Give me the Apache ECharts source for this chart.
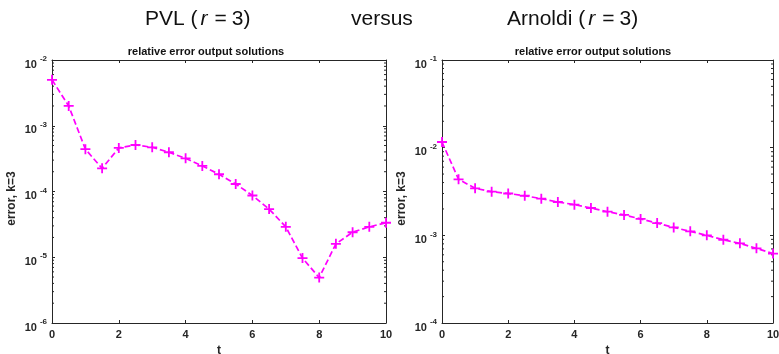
<!DOCTYPE html>
<html>
<head>
<meta charset="utf-8">
<script src="https://cdn.jsdelivr.net/npm/echarts@6/dist/echarts.min.js"></script>
<style>
html, body { margin: 0; padding: 0; background: #fff; }
#chart { width: 779px; height: 354px; }
</style>
</head>
<body>
<div id="chart"></div>
<script>
var tValues = [0, 0.5, 1, 1.5, 2, 2.5, 3, 3.5, 4, 4.5, 5, 5.5, 6, 6.5, 7, 7.5, 8, 8.5, 9, 9.5, 10];
var pvlError = [5.0e-3, 2.0e-3, 4.4e-4, 2.25e-4, 4.6e-4, 5.1e-4, 4.7e-4, 3.95e-4, 3.2e-4, 2.45e-4, 1.83e-4, 1.3e-4, 8.7e-5, 5.4e-5, 2.9e-5, 9.7e-6, 4.9e-6, 1.6e-5, 2.4e-5, 2.9e-5, 3.35e-5];
var arnoldiError = [1.16e-2, 4.35e-3, 3.44e-3, 3.15e-3, 3.0e-3, 2.83e-3, 2.62e-3, 2.4e-3, 2.24e-3, 2.05e-3, 1.86e-3, 1.71e-3, 1.54e-3, 1.38e-3, 1.23e-3, 1.11e-3, 1.0e-3, 8.9e-4, 8.1e-4, 7.1e-4, 6.2e-4];
var leftRange = [1e-6, 1e-2];
var rightRange = [1e-4, 1e-1];
var tRange = [0, 10];

var font = 'Liberation Sans, Arial, Helvetica, sans-serif';
var axisColor = '#262626';
var plotColor = '#ff00ff';
var plusSymbol = 'path://M4.1,0h1.8v10h-1.8zM0,4.1h10v1.8h-10z';

// minor log ticks at 2..9 of every decade
function minorTicks(range) {
    var out = [];
    for (var e = Math.round(Math.log10(range[0])); e < Math.round(Math.log10(range[1])); e++) {
        for (var k = 2; k <= 9; k++) out.push([tRange[0], k * Math.pow(10, e)]);
    }
    return out;
}

function expLabel(v) {
    var e = Math.round(Math.log10(v));
    return '{b|10}{s|' + e + '}';
}

var grids = [
    { left: 52, top: 60, width: 334, height: 263, outerBoundsMode: 'none' },
    { left: 442, top: 60, width: 331, height: 263, outerBoundsMode: 'none' }
];

var xAxes = [];
var yAxes = [];
[leftRange, rightRange].forEach(function (range, g) {
    xAxes.push({
        gridIndex: g, type: 'value', min: tRange[0], max: tRange[1], interval: 2,
        name: 't', nameLocation: 'middle', nameGap: 19,
        nameTextStyle: { fontFamily: font, fontWeight: 'bold', fontSize: 12, color: axisColor },
        axisLine: { show: true, onZero: false, lineStyle: { color: axisColor, width: 1 } },
        axisTick: { show: true, inside: true, length: 3, lineStyle: { color: axisColor } },
        axisLabel: { fontFamily: font, fontWeight: 'bold', fontSize: 11, color: axisColor, margin: 6 },
        splitLine: { show: false }
    });
    xAxes.push({
        gridIndex: g, type: 'value', min: tRange[0], max: tRange[1], interval: 2, position: 'top',
        axisLine: { show: true, onZero: false, lineStyle: { color: axisColor, width: 1 } },
        axisTick: { show: true, inside: true, length: 3, lineStyle: { color: axisColor } },
        axisLabel: { show: false },
        splitLine: { show: false }
    });
    yAxes.push({
        gridIndex: g, type: 'log', logBase: 10, min: range[0], max: range[1],
        position: 'left',
        name: 'error, k=3', nameLocation: 'middle', nameGap: 34,
        nameTextStyle: { fontFamily: font, fontWeight: 'bold', fontSize: 12, color: axisColor, padding: [0, 14, 0, 0] },
        axisLine: { show: true, onZero: false, lineStyle: { color: axisColor, width: 1 } },
        axisTick: { show: true, inside: true, length: 3, lineStyle: { color: axisColor } },
        splitLine: { show: false },
        axisLabel: {
            margin: 5, formatter: expLabel, padding: [5, 0, 0, 0],
            rich: {
                b: { fontFamily: font, fontWeight: 'bold', fontSize: 11, color: axisColor, lineHeight: 15, verticalAlign: 'bottom', padding: [0, 3, 0, 0] },
                s: { fontFamily: font, fontWeight: 'bold', fontSize: 8, color: axisColor, lineHeight: 15, verticalAlign: 'top' }
            }
        }
    });
    yAxes.push({
        gridIndex: g, type: 'log', logBase: 10, min: range[0], max: range[1],
        position: 'right',
        axisLine: { show: true, onZero: false, lineStyle: { color: axisColor, width: 1 } },
        axisTick: { show: true, inside: true, length: 3, lineStyle: { color: axisColor } },
        axisLabel: { show: false },
        splitLine: { show: false }
    });
});

function pairs(ys) {
    return tValues.map(function (t, i) { return [t, ys[i]]; });
}

function errSeries(g, ys) {
    return {
        type: 'line', xAxisIndex: g * 2, yAxisIndex: g * 2,
        data: pairs(ys),
        symbol: plusSymbol, symbolSize: 10, showSymbol: true,
        clip: false, animation: false, z: 3,
        itemStyle: { color: plotColor },
        lineStyle: { color: plotColor, width: 1.7, type: [6, 3] }
    };
}

// short inside ticks on both sides of the box, placed by the log axis
function minorTickSeries(g, range) {
    return {
        type: 'custom', xAxisIndex: g * 2, yAxisIndex: g * 2,
        data: minorTicks(range), silent: true, animation: false, z: 2,
        renderItem: function (params, api) {
            var v = api.value(1);
            var a = api.coord([tRange[0], v]);
            var b = api.coord([tRange[1], v]);
            var st = { stroke: axisColor, lineWidth: 1 };
            return {
                type: 'group',
                children: [
                    { type: 'line', shape: { x1: a[0], y1: a[1], x2: a[0] + 2, y2: a[1] }, style: st },
                    { type: 'line', shape: { x1: b[0], y1: b[1], x2: b[0] - 2, y2: b[1] }, style: st }
                ]
            };
        }
    };
}

var mathRich = {
    n: { fontFamily: font, fontSize: 21, fontWeight: 'normal', color: '#111' },
    i: { fontFamily: font, fontSize: 21, fontWeight: 'normal', fontStyle: 'italic', color: '#111', padding: [0, 2, 0, 3] },
    q: { fontFamily: font, fontSize: 21, fontWeight: 'normal', color: '#111', padding: [0, 5, 0, 5] }
};

var option = {
    backgroundColor: '#ffffff',
    animation: false,
    title: [{
        text: '{n|PVL (}{i|r}{q|=}{n|3)}',
        left: 140, top: 4,
        textStyle: { rich: mathRich }
    }, {
        text: 'versus',
        left: 346, top: 4,
        textStyle: { fontFamily: font, fontSize: 21, fontWeight: 'normal', color: '#111' }
    }, {
        text: '{n|Arnoldi (}{i|r}{q|=}{n|3)}',
        left: 502, top: 4,
        textStyle: { rich: mathRich }
    }, {
        text: 'relative error output solutions',
        left: 201, top: 41, textAlign: 'center',
        textStyle: { fontFamily: font, fontSize: 11, fontWeight: 'bold', color: '#111' }
    }, {
        text: 'relative error output solutions',
        left: 588, top: 41, textAlign: 'center',
        textStyle: { fontFamily: font, fontSize: 11, fontWeight: 'bold', color: '#111' }
    }],
    grid: grids,
    xAxis: xAxes,
    yAxis: yAxes,
    series: [
        minorTickSeries(0, leftRange), minorTickSeries(1, rightRange),
        errSeries(0, pvlError), errSeries(1, arnoldiError)
    ]
};

var chart = echarts.init(document.getElementById('chart'));
chart.setOption(option);
</script>
</body>
</html>
